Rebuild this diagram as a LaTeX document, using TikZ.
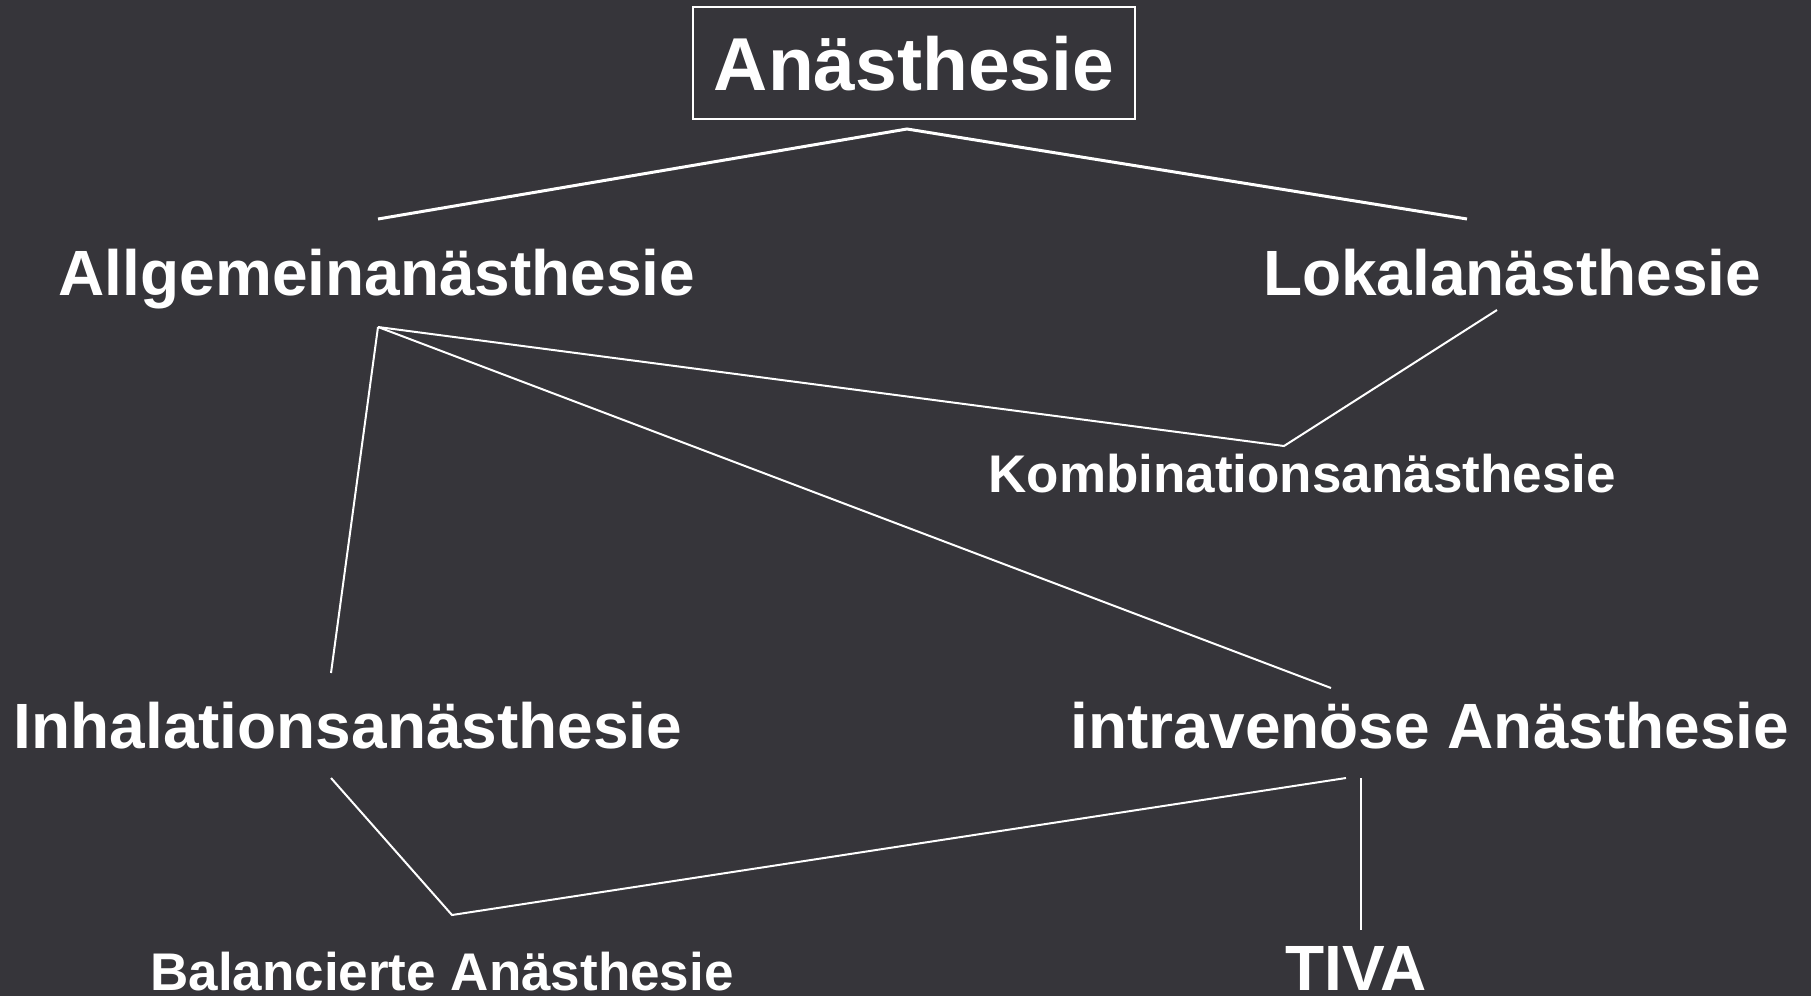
\documentclass[tikz,border=0pt]{standalone}
\usepackage{fontspec}
\setmainfont{Liberation Sans}
\definecolor{bg}{RGB}{54,53,58}
\begin{document}
\begin{tikzpicture}[x=1pt,y=-1pt,
  lbl/.style={text=white,font=\bfseries\fontsize{64}{70}\selectfont,anchor=base,inner sep=0pt},
  sml/.style={lbl,font=\bfseries\fontsize{53}{60}\selectfont},
  conn/.style={draw=white,line width=2pt},
  thick conn/.style={draw=white,line width=3pt}]
\fill[bg] (0,0) rectangle (1811,996);
\useasboundingbox (0,0) rectangle (1811,996);
% nodes
\node[draw=white,line width=2pt,text=white,font=\bfseries\fontsize{75}{80}\selectfont,
  inner sep=0pt,text height=54pt,text depth=0pt,minimum width=442pt,minimum height=112pt]
  (top) at (914,63) {Anästhesie};
\node[lbl] (allg) at (377,295) {Allgemeinanästhesie};
\node[lbl] (lokal) at (1512,295) {Lokalanästhesie};
\node[sml] (komb) at (1302,492) {Kombinationsanästhesie};
\node[lbl] (inhal) at (348,748) {Inhalationsanästhesie};
\node[lbl] (iv) at (1430,748) {intravenöse Anästhesie};
\node[sml] (bal) at (442,990) {Balancierte Anästhesie};
\node[lbl] (tiva) at (1356,990) {TIVA};
% connector end points
\coordinate (top-s) at (907,129);
\coordinate (allg-n) at (378,219);
\coordinate (lokal-n) at (1467,219);
\coordinate (allg-s) at (378,327);
\coordinate (lokal-s) at (1497,310);
\coordinate (komb-n) at (1284,446);
\coordinate (inhal-n) at (331,673);
\coordinate (iv-n) at (1331,688);
\coordinate (inhal-s) at (331,778);
\coordinate (bal-n) at (452,915);
\coordinate (iv-sw) at (1346,778);
\coordinate (iv-s) at (1361,778);
\coordinate (tiva-n) at (1361,930);
% connectors
\draw[thick conn] (allg-n) -- (top-s) -- (lokal-n);
\draw[conn] (allg-s) -- (komb-n) -- (lokal-s);
\draw[conn] (allg-s) -- (inhal-n);
\draw[conn] (allg-s) -- (iv-n);
\draw[conn] (inhal-s) -- (bal-n) -- (iv-sw);
\draw[conn,line width=1.5pt] (iv-s) -- (tiva-n);
\end{tikzpicture}
\end{document}
